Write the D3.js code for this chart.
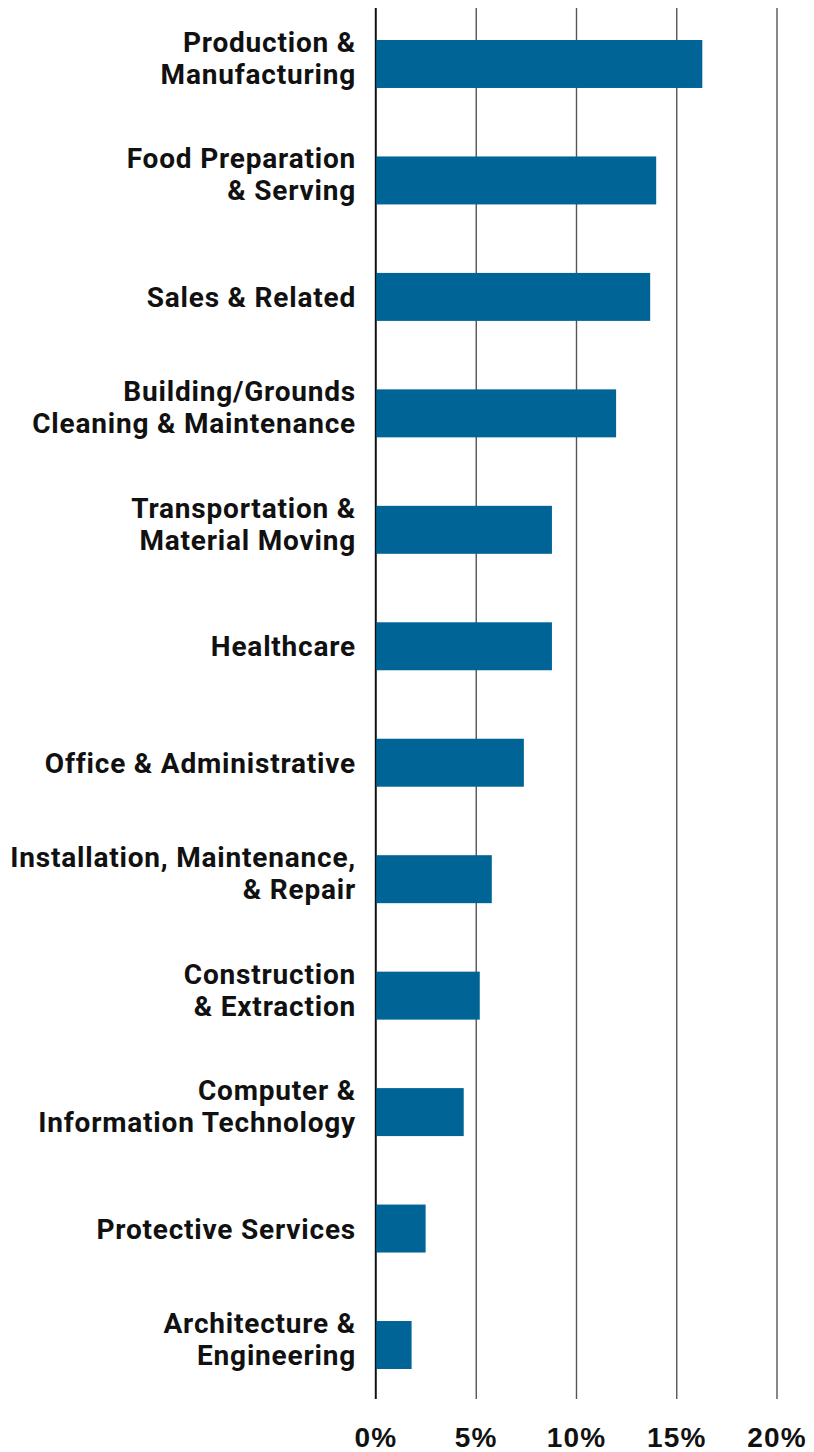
<!DOCTYPE html>
<html>
<head>
<meta charset="utf-8">
<script src="https://cdn.jsdelivr.net/npm/d3@7"></script>
<style>
  body { margin: 0; background: #fff; }
  svg text { font-family: Roboto, "Liberation Sans", sans-serif; font-weight: 700; fill: #111; }
</style>
</head>
<body>
<div id="chart"></div>
<script>
// occupation categories (each label split into its lines)
const categories = [
    ["Production &", "Manufacturing"],
    ["Food Preparation", "& Serving"],
    ["Sales & Related"],
    ["Building/Grounds", "Cleaning & Maintenance"],
    ["Transportation &", "Material Moving"],
    ["Healthcare"],
    ["Office & Administrative"],
    ["Installation, Maintenance,", "& Repair"],
    ["Construction", "& Extraction"],
    ["Computer &", "Information Technology"],
    ["Protective Services"],
    ["Architecture &", "Engineering"]
];
// share of jobs, percent
const values = [16.3, 14.0, 13.7, 12.0, 8.8, 8.8, 7.4, 5.8, 5.2, 4.4, 2.5, 1.8];
const tickValues = [0, 5, 10, 15, 20];

const W = 814, H = 1452;
const svg = d3.select("#chart").append("svg")
    .attr("width", W)
    .attr("height", H);

const data = categories.map((c, i) => ({ key: i, lines: c, value: values[i] }));

// scales
const x = d3.scaleLinear().domain([0, 20]).range([375.5, 776.5]);
const y = d3.scaleBand()
    .domain(data.map(d => d.key))
    .range([40, 1369])
    .paddingInner(0.588)
    .paddingOuter(0);

const gridTop = 8, gridBottom = 1399;

// grid lines + tick labels via axis
const axis = svg.append("g")
    .attr("transform", `translate(0,${gridBottom})`)
    .call(d3.axisBottom(x)
        .tickValues(tickValues)
        .tickSize(-(gridBottom - gridTop))
        .tickPadding(28)
        .tickFormat(d => d + "%"));
axis.select(".domain").remove();
axis.selectAll(".tick line")
    .attr("stroke", d => d === 0 ? "#111" : "#555")
    .attr("stroke-width", 1.4);
axis.selectAll(".tick text")
    .attr("font-size", "28px")
    .attr("letter-spacing", "1.2px")
    .style("font-family", "'Liberation Sans', Arial, sans-serif")
    .attr("fill", "#111");

// bars
svg.append("g").selectAll("rect")
    .data(data)
    .enter().append("rect")
    .attr("x", x(0))
    .attr("y", d => y(d.key))
    .attr("width", d => x(d.value) - x(0))
    .attr("height", y.bandwidth())
    .attr("fill", "#006596");

// redraw zero line on top of bars
svg.append("line")
    .attr("x1", x(0)).attr("x2", x(0))
    .attr("y1", gridTop).attr("y2", gridBottom)
    .attr("stroke", "#111")
    .attr("stroke-width", 1.4);

// category labels
const labels = svg.append("g").selectAll("text")
    .data(data)
    .enter().append("text")
    .attr("text-anchor", "end")
    .attr("font-size", "28px")
    .attr("letter-spacing", "0.8px")
    .attr("x", 356)
    .attr("y", d => {
        const c = y(d.key) + y.bandwidth() / 2;
        return d.lines.length === 1 ? c + 10 : c - 12;
    });

labels.selectAll("tspan")
    .data(d => d.lines)
    .enter().append("tspan")
    .attr("x", 356)
    .attr("dy", (d, i) => i === 0 ? 0 : 32)
    .text(d => d);
</script>
</body>
</html>
